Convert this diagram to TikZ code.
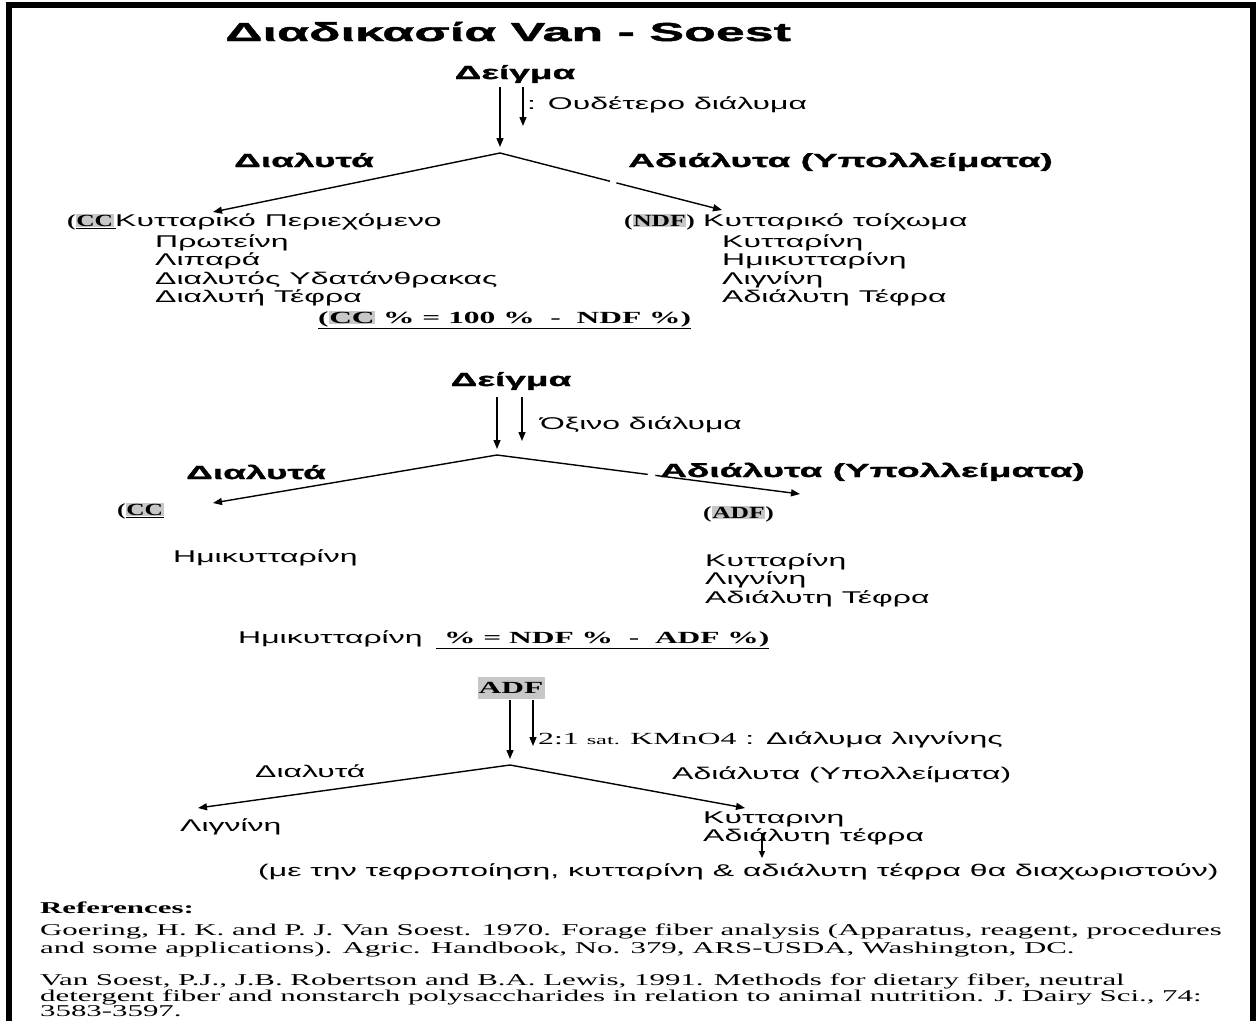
\documentclass[tikz,border=0pt]{standalone}
\usepackage{fontspec}
\usetikzlibrary{arrows.meta}
% Wide, stretched faces used throughout the chart
\newfontfamily\grR[FakeStretch=1.88]{Liberation Sans}
\newfontfamily\grH[FakeStretch=1.95,BoldFeatures={FakeBold=1.5}]{Liberation Sans}
\newfontfamily\grT[FakeStretch=2.0,BoldFeatures={FakeBold=1.6}]{Liberation Sans}
\newfontfamily\tmR[FakeStretch=1.87]{Liberation Serif}
\newfontfamily\tmF[FakeStretch=1.85]{Liberation Serif}
\newfontfamily\tmL[FakeStretch=1.5]{Liberation Serif}
\definecolor{hlgray}{gray}{0.78}
\newcommand\hlbox[1]{{\setlength{\fboxsep}{0.6pt}\colorbox{hlgray}{#1}}}
\begin{document}
\begin{tikzpicture}[x=1pt,y=-1pt,
  body/.style={font=\grR\fontsize{17}{19}\selectfont, inner sep=0pt, anchor=base west},
  head/.style={font=\grH\bfseries\fontsize{19}{21}\selectfont, inner sep=0pt, anchor=base west},
  tmb/.style={font=\tmF\bfseries\fontsize{17}{19}\selectfont, inner sep=0pt, anchor=base west},
  tag/.style={font=\tmL\bfseries\fontsize{17}{19}\selectfont, inner sep=0pt, anchor=base west},
  refs/.style={font=\tmR\fontsize{16.5}{18}\selectfont, inner sep=0pt, anchor=base west},
  flow/.style={line width=1.4pt, -{Triangle[length=9pt,width=7pt]}},
  drop/.style={flow, shorten >=6pt},
  gap/.style={fill=white, draw=none}]
\useasboundingbox (0,0) rectangle (1259,1021);
% open frame: left, top and right sides
\draw[line width=6pt] (9,1021) -- (9,5) -- (1253,5) -- (1253,1021);

\node[font=\grT\bfseries\fontsize{26}{28}\selectfont, inner sep=0pt, anchor=base west] (title) at (225,41) {Διαδικασία Van - Soest};

% ---------- neutral detergent step ----------
\node[head, anchor=base] (d1) at (515,79) {Δείγμα};
\coordinate (a1) at (500,153);
\coordinate (d1l) at (500,87);
\coordinate (d1s) at (523,87);
\coordinate (d1e) at (523,126);
\draw[drop] (d1l) -- (a1);
\draw[flow] (d1s) -- (d1e);
\node[body] (sol1) at (527,109) {: Ουδέτερο διάλυμα};
\coordinate (l1) at (213,212);
\coordinate (r1) at (722,210);
\draw[flow] (a1) -- (l1);
\draw[flow] (a1) -- (r1);
\path (a1) -- (r1) coordinate[pos=0.51] (g1);
\fill[gap] (g1) circle (3.5pt);
\node[head] (sl1) at (234,167) {Διαλυτά};
\node[head] (in1) at (628,167) {Αδιάλυτα (Υπολλείματα)};

\node[tag] (cc1) at (67,226) {(\underline{\hlbox{CC}\kern2pt}};
\node[body] (cc1t) at (115,226) {Κυτταρικό Περιεχόμενο};
\node[body] (cc1a) at (155,247) {Πρωτείνη};
\node[body] (cc1b) at (155,265.5) {Λιπαρά};
\node[body] (cc1c) at (155,284) {Διαλυτός Υδατάνθρακας};
\node[body] (cc1d) at (155,302.5) {Διαλυτή Τέφρα};
\node[tmb] (f1) at (318,323) {\underline{(\hlbox{CC} \% = 100 \%\ \ -\ \ NDF \%)}};

\node[tag] (ndf) at (624,226) {(\hlbox{NDF})};
\node[body] (ndft) at (703,226) {Κυτταρικό τοίχωμα};
\node[body] (ndfa) at (722,247) {Κυτταρίνη};
\node[body] (ndfb) at (722,265.5) {Ημικυτταρίνη};
\node[body] (ndfc) at (722,284) {Λιγνίνη};
\node[body] (ndfd) at (722,302.5) {Αδιάλυτη Τέφρα};

% ---------- acid detergent step ----------
\node[head, anchor=base] (d2) at (511,386) {Δείγμα};
\coordinate (a2) at (497,455);
\coordinate (d2l) at (497,397);
\coordinate (d2s) at (522,397);
\coordinate (d2e) at (522,441);
\draw[drop] (d2l) -- (a2);
\draw[flow] (d2s) -- (d2e);
\node[body] (sol2) at (540,429) {Όξινο διάλυμα};
\coordinate (l2) at (213,503);
\coordinate (r2) at (800,494);
\draw[flow] (a2) -- (l2);
\draw[flow] (a2) -- (r2);
\path (a2) -- (r2) coordinate[pos=0.51] (g2);
\fill[gap] (g2) circle (4pt);
\node[head] (sl2) at (186,479) {Διαλυτά};
\node[head] (in2) at (660,477) {Αδιάλυτα (Υπολλείματα)};

\node[tag] (cc2) at (117,515) {(\underline{\hlbox{CC}}};
\node[body] (cc2a) at (173,562) {Ημικυτταρίνη};
\node[tag] (adf) at (703,518) {(\hlbox{ADF})};
\node[body] (adfa) at (705,566) {Κυτταρίνη};
\node[body] (adfb) at (705,584.5) {Λιγνίνη};
\node[body] (adfc) at (705,603) {Αδιάλυτη Τέφρα};
\node[body] (hm) at (238,643) {Ημικυτταρίνη};
\node[tmb] (f2) at (436,643) {\underline{\ \% = NDF \%\ \ -\ \ ADF \%)}};

% ---------- permanganate step ----------
\node[font=\tmF\bfseries\fontsize{17}{19}\selectfont, fill=hlgray, minimum width=67pt, minimum height=22pt, inner sep=0pt] (adf3) at (511,688) {ADF};
\coordinate (a3) at (510,765);
\coordinate (d3l) at (510,700);
\coordinate (d3s) at (533,700);
\coordinate (d3e) at (533,746);
\draw[drop] (d3l) -- (a3);
\draw[flow] (d3s) -- (d3e);
\node[body] (sol3) at (538,744) {{\tmR 2:1 {\fontsize{13}{15}\selectfont sat.} KMnO4} : Διάλυμα λιγνίνης};
\node[body] (sl3) at (255,777) {Διαλυτά};
\node[body] (in3) at (672,779) {Αδιάλυτα (Υπολλείματα)};
\coordinate (l3) at (198,808);
\coordinate (r3) at (745,808);
\draw[flow] (a3) -- (l3);
\draw[flow] (a3) -- (r3);
\node[body] (lig) at (180,831) {Λιγνίνη};
\node[body] (rs3a) at (703,823) {Κυτταρινη};
\node[body] (rs3b) at (703,841) {Αδιάλυτη τέφρα};
\coordinate (ash) at (762,833);
\coordinate (ashe) at (762,858);
\draw[line width=1.2pt, -{Triangle[length=7pt,width=6pt]}] (ash) -- (ashe);
\node[body] (note) at (258,876) {(με την τεφροποίηση, κυτταρίνη \& αδιάλυτη τέφρα θα διαχωριστούν)};

% ---------- references ----------
\node[refs, font=\tmR\bfseries\fontsize{16.5}{18}\selectfont] (rh) at (40,913) {References:};
\node[refs] (r1a) at (40,935) {Goering, H. K. and P. J. Van Soest. 1970. Forage fiber analysis (Apparatus, reagent, procedures};
\node[refs] (r1b) at (40,953) {and some applications). Agric. Handbook, No. 379, ARS-USDA, Washington, DC.};
\node[refs] (r2a) at (40,985) {Van Soest, P.J., J.B. Robertson and B.A. Lewis, 1991. Methods for dietary fiber, neutral};
\node[refs] (r2b) at (40,1001) {detergent fiber and nonstarch polysaccharides in relation to animal nutrition. J. Dairy Sci., 74:};
\node[refs] (r2c) at (40,1016) {3583-3597.};
\end{tikzpicture}
\end{document}
